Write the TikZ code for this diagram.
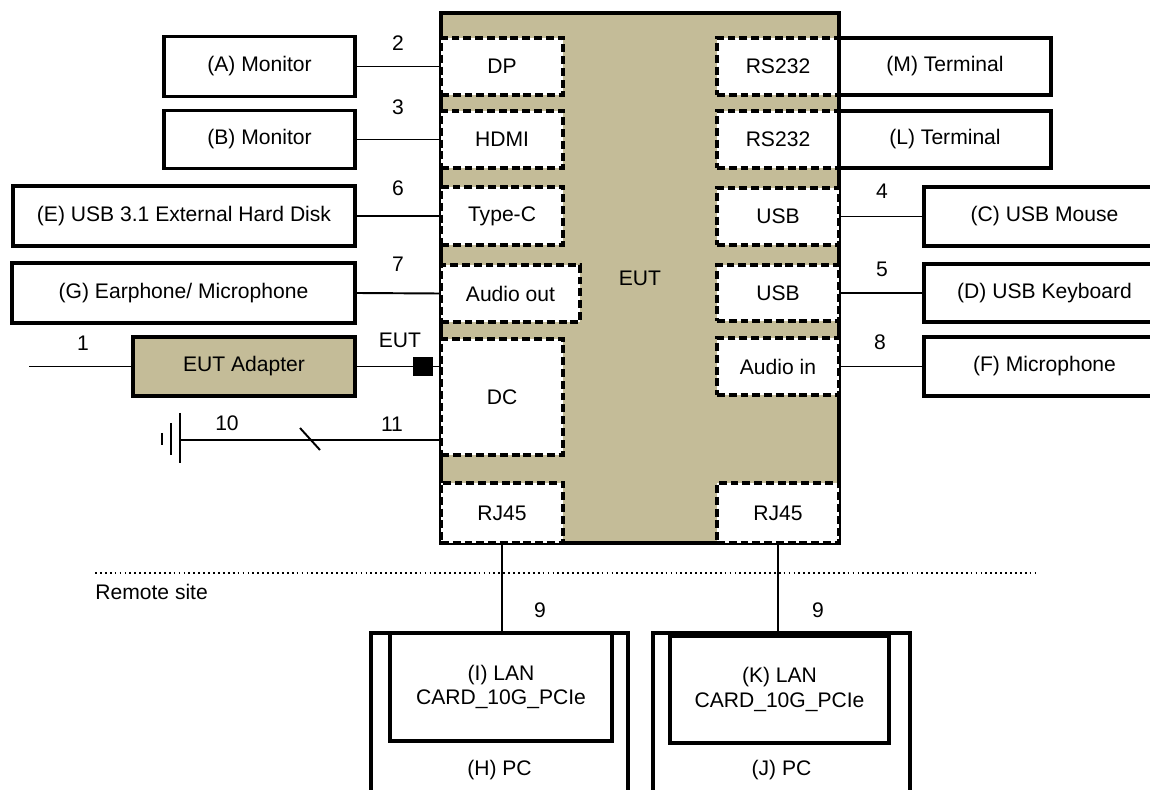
\documentclass[tikz,border=0pt]{standalone}
\usepackage{fontspec}
\setmainfont{Liberation Sans}
\usetikzlibrary{positioning}
\definecolor{euttan}{RGB}{196,188,152}

\begin{document}
\begin{tikzpicture}[x=0.02cm, y=-0.02cm, font=\fontsize{12}{14}\selectfont,
    sz/.style 2 args={minimum width=#1*0.02cm, minimum height=#2*0.02cm},
    dev/.style={draw, line width=1.8pt, fill=white, inner sep=0pt, align=center},
    port/.style={draw, line width=2pt, dash pattern=on 4.5pt off 2.2pt, fill=white, inner sep=0pt},
    wire/.style={line width=1.1pt}]
    \useasboundingbox (0,0) rectangle (1150,790);
    \clip (0,0) rectangle (1150,790);
    % EUT and its ports
    \node[dev, fill=euttan, sz={398}{530}] (eut) at (640,278) {EUT};
    \node[port, sz={122}{57}] (dp) at (502,66.5) {DP};
    \node[port, sz={122}{57}] (hdmi) at (502,139.5) {HDMI};
    \node[port, sz={122}{58}] (typec) at (502,216) {Type-C};
    \node[port, sz={139}{57}] (audout) at (510.5,293.5) {Audio out};
    \node[port, sz={122}{116}] (dc) at (502,397) {DC};
    \node[port, sz={122}{60}] (rjl) at (502,513) {RJ45};
    \node[port, sz={122}{57}] (rsm) at (778,66.5) {RS232};
    \node[port, sz={122}{57}] (rsl) at (778,139.5) {RS232};
    \node[port, sz={122}{57}] (usbc) at (778,216.5) {USB};
    \node[port, sz={122}{56}] (usbd) at (778,293) {USB};
    \node[port, sz={122}{57}] (audin) at (778,366.5) {Audio in};
    \node[port, sz={122}{60}] (rjr) at (778,513) {RJ45};
    % support units, left
    \node[dev, sz={191}{60}] (mona) at (259.5,66.5) {(A) Monitor};
    \node[dev, sz={191}{58}] (monb) at (259.5,139.5) {(B) Monitor};
    \node[dev, sz={342}{60}] (hdd) at (184,216) {(E) USB 3.1 External Hard Disk};
    \node[dev, sz={343}{60}] (earph) at (183.5,293) {(G) Earphone/ Microphone};
    \node[dev, fill=euttan, sz={222}{59}] (adapter) at (244,366.5) {EUT Adapter};
    \node[fill=black, inner sep=0pt, sz={20}{19}] (plug) at (423,366.5) {};
    % support units, right
    \node[dev, sz={212}{57}] (termm) at (945,66.5) {(M) Terminal};
    \node[dev, sz={212}{57}] (terml) at (945,139.5) {(L) Terminal};
    \node[dev, sz={241}{59}] (mouse) at (1044.5,216.5) {(C) USB Mouse};
    \node[dev, sz={241}{58}] (kbd) at (1044.5,293) {(D) USB Keyboard};
    \node[dev, sz={241}{59}] (mic) at (1044.5,366.5) {(F) Microphone};
    % remote site
    \node[dev, sz={257}{274}] (pch) at (499.5,770) {(H) PC};
    \node[dev, sz={222}{108}] (lani) at (501,687) {(I) LAN\\CARD\_10G\_PCIe};
    \node[dev, sz={257}{274}] (pcj) at (781.5,770) {(J) PC};
    \node[dev, sz={219}{107}] (lank) at (779.5,689.5) {(K) LAN\\CARD\_10G\_PCIe};
    \coordinate (rs0) at (95,573);
    \coordinate (rs1) at (1035,573);
    \node[anchor=west, inner sep=0pt] (remote) at (95,592) {Remote site};
    % cables
    \draw[wire] (mona.east) -- (dp.west);
    \draw[wire] (monb.east) -- (hdmi.west);
    \draw[wire] (hdd.east) -- (typec.west);
    \draw[wire] (earph.east) -- (audout.west);
    \draw[wire] (usbc.east) -- (mouse.west);
    \draw[wire] (usbd.east) -- (kbd.west);
    \draw[wire] (audin.east) -- (mic.west);
    \coordinate (mains) at (29,366.5);
    \draw[wire] (mains) -- (adapter.west);
    \draw[wire] (adapter.east) -- (plug.west);
    \draw[wire] (plug.east) -- (plug.east -| dc.west);
    \coordinate (gnd) at (180,440);
    \draw[wire] (gnd) -- (gnd -| dc.west);
    \draw[wire] (300,428) -- (320,450);
    \draw[line width=1.3pt] (180,413) -- (180,463) (171,423) -- (171,455) (162,433) -- (162,445);
    \draw[wire] (rjl.south) -- (rjl.south |- lani.north);
    \draw[wire] (rjr.south) -- (rjr.south |- lank.north);
    \draw[line width=1pt, dash pattern=on 1pt off 1.8pt] (rs0) -- (rs1);
    % cable numbers
    \node (n1) at (83,343) {1};
    \node (n2) at (398,43) {2};
    \node (n3) at (398,107) {3};
    \node (n6) at (398,188) {6};
    \node (n7) at (398,264) {7};
    \node (n4) at (882,191) {4};
    \node (n5) at (882,269) {5};
    \node (n8) at (880,342) {8};
    \node (n9a) at (540,610) {9};
    \node (n9b) at (818,610) {9};
    \node (n10) at (227,423) {10};
    \node (n11) at (392,424) {11};
    \node (eutlbl) at (400,340) {EUT};
\end{tikzpicture}
\end{document}
